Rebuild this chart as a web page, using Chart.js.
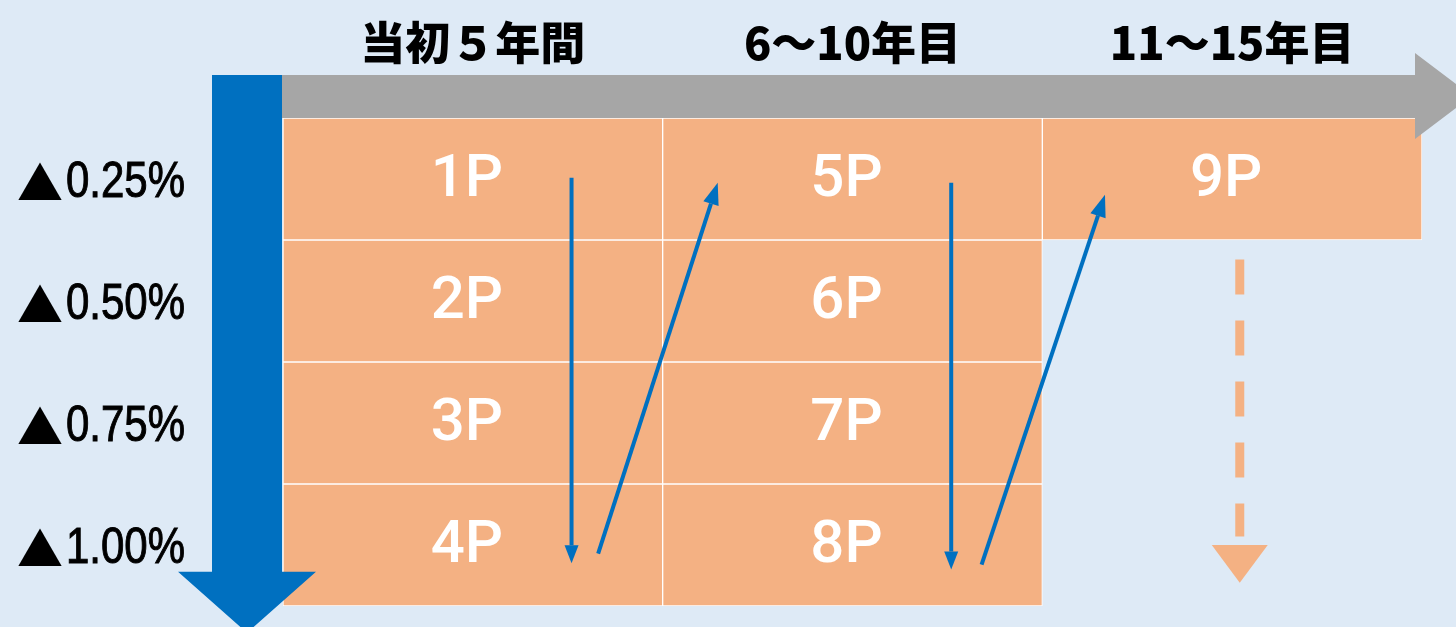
<!DOCTYPE html>
<html lang="ja">
<head>
<meta charset="UTF-8">
<title>引き下げ幅</title>
<script src="https://cdn.jsdelivr.net/npm/chart.js"></script>
<style>
  body { margin: 0; background: #deeaf6; overflow: hidden; }
  canvas { display: block; }
</style>
</head>
<body>
<canvas id="chart" width="1456" height="627"></canvas>
<script>
// データ
const periods = ['当初５年間', '6～10年目', '11～15年目'];
const rates = ['▲0.25%', '▲0.50%', '▲0.75%', '▲1.00%'];
const points = [
  ['1P', '5P', '9P'],
  ['2P', '6P', null],
  ['3P', '7P', null],
  ['4P', '8P', null]
];

// 矢印を描く
function arrow(ctx, x1, y1, x2, y2, len, half) {
  const ang = Math.atan2(y2 - y1, x2 - x1);
  const bx = x2 - len * Math.cos(ang), by = y2 - len * Math.sin(ang);
  ctx.beginPath(); ctx.moveTo(x1, y1); ctx.lineTo(bx, by); ctx.stroke();
  ctx.beginPath(); ctx.moveTo(x2, y2);
  ctx.lineTo(bx + half * Math.sin(ang), by - half * Math.cos(ang));
  ctx.lineTo(bx - half * Math.sin(ang), by + half * Math.cos(ang));
  ctx.closePath(); ctx.fill();
}

const deco = {
  id: 'deco',
  afterDatasetsDraw(chart) {
    const { ctx, chartArea: a, scales: { x, y } } = chart;
    const X = v => x.getPixelForValue(v);
    const Y = v => y.getPixelForValue(v);
    ctx.save();

    // セル内のラベル
    ctx.fillStyle = '#ffffff';
    ctx.font = '500 60px Roboto, "Liberation Sans", sans-serif';
    ctx.textAlign = 'center';
    ctx.textBaseline = 'middle';
    chart.data.datasets.forEach((ds, r) => {
      chart.getDatasetMeta(r).data.forEach((bar, c) => {
        if (!points[r][c]) return;
        const p = bar.getCenterPoint();
        ctx.fillText(points[r][c], p.x - 6, p.y + 2);
      });
    });

    // 縦軸ラベル（数字は横に縮めて細い字形に、▲は大きめの字で）
    ctx.fillStyle = '#000';
    ctx.strokeStyle = '#000';
    ctx.lineWidth = 1;
    ctx.textAlign = 'right';
    ctx.textBaseline = 'middle';
    rates.forEach((t, i) => {
      const mark = t.slice(0, 1), num = t.slice(1);
      const yy = Y(i + 0.5) + 4;
      ctx.font = '50px "Liberation Sans", Arial, sans-serif';
      const w = ctx.measureText(num).width * 0.84;
      ctx.save();
      ctx.translate(a.left - 98, yy);
      ctx.scale(0.84, 1);
      ctx.fillText(num, 0, 0);
      ctx.strokeText(num, 0, 0);
      ctx.restore();
      ctx.font = '46px "Noto Sans CJK JP", "DejaVu Sans", sans-serif';
      ctx.fillText(mark, a.left - 98 - w - 3, yy);
    });

    // 上の灰色矢印
    ctx.fillStyle = '#a6a6a6';
    ctx.beginPath();
    ctx.moveTo(a.left - 2, a.top - 43);
    ctx.lineTo(a.right - 7, a.top - 43);
    ctx.lineTo(a.right - 7, a.top - 65);
    ctx.lineTo(a.right + 50, a.top - 22);
    ctx.lineTo(a.right - 7, a.top + 21);
    ctx.lineTo(a.right - 7, a.top);
    ctx.lineTo(a.left - 2, a.top);
    ctx.closePath();
    ctx.fill();

    // 左の青い矢印
    ctx.fillStyle = '#0070c0';
    ctx.beginPath();
    ctx.moveTo(a.left - 71, a.top - 43);
    ctx.lineTo(a.left - 1, a.top - 43);
    ctx.lineTo(a.left - 1, Y(3.72));
    ctx.lineTo(a.left + 33, Y(3.72));
    ctx.lineTo(a.left - 36, Y(4.22));
    ctx.lineTo(a.left - 105, Y(3.72));
    ctx.lineTo(a.left - 71, Y(3.72));
    ctx.closePath();
    ctx.fill();

    // 順番を示す細い矢印
    ctx.strokeStyle = '#0070c0';
    ctx.lineWidth = 4;
    arrow(ctx, X(0.26), Y(0.49), X(0.26), Y(3.65), 18, 7);
    arrow(ctx, X(0.33), Y(3.57), X(0.645), Y(0.53), 22, 8);
    arrow(ctx, X(1.26), Y(0.53), X(1.26), Y(3.70), 18, 7);
    arrow(ctx, X(1.34), Y(3.66), X(1.665), Y(0.63), 22, 8);

    // 破線の矢印
    ctx.strokeStyle = '#f4b183';
    ctx.fillStyle = '#f4b183';
    ctx.lineWidth = 9;
    ctx.setLineDash([35, 26]);
    ctx.beginPath();
    ctx.moveTo(X(2.02), Y(1.16));
    ctx.lineTo(X(2.02), Y(3.43));
    ctx.stroke();
    ctx.setLineDash([]);
    ctx.beginPath();
    ctx.moveTo(X(2.02) - 28, Y(3.5));
    ctx.lineTo(X(2.02) + 28, Y(3.5));
    ctx.lineTo(X(2.02), Y(3.81));
    ctx.closePath();
    ctx.fill();

    ctx.restore();
  }
};

new Chart(document.getElementById('chart'), {
  type: 'bar',
  data: {
    labels: periods,
    datasets: rates.map((rate, r) => ({
      label: rate,
      data: periods.map((_, c) => points[r][c] ? [r, r + 1] : null),
      backgroundColor: '#f4b183',
      borderColor: '#ffffff',
      borderWidth: 1,
      borderSkipped: false,
      barPercentage: 1,
      categoryPercentage: 1,
      grouped: false
    }))
  },
  options: {
    responsive: false,
    animation: false,
    devicePixelRatio: 1,
    layout: { padding: { left: 0, right: 34, top: 0, bottom: 21 } },
    plugins: { legend: { display: false }, tooltip: { enabled: false } },
    scales: {
      x: {
        position: 'top',
        grid: { display: false, drawTicks: false },
        border: { display: false },
        ticks: {
          color: '#000',
          font: { family: '"Noto Sans CJK JP", sans-serif', size: 45, weight: '900' },
          padding: 48,
          maxRotation: 0,
          autoSkip: false
        },
        afterFit: s => { s.height = 118; }
      },
      y: {
        min: 0,
        max: 4,
        reverse: true,
        grid: { display: false, drawTicks: false },
        border: { display: false },
        afterBuildTicks: s => { s.ticks = rates.map((_, i) => ({ value: i + 0.5 })); },
        ticks: { display: false },
        afterFit: s => { s.width = 283; }
      }
    }
  },
  plugins: [deco]
});
</script>
</body>
</html>
